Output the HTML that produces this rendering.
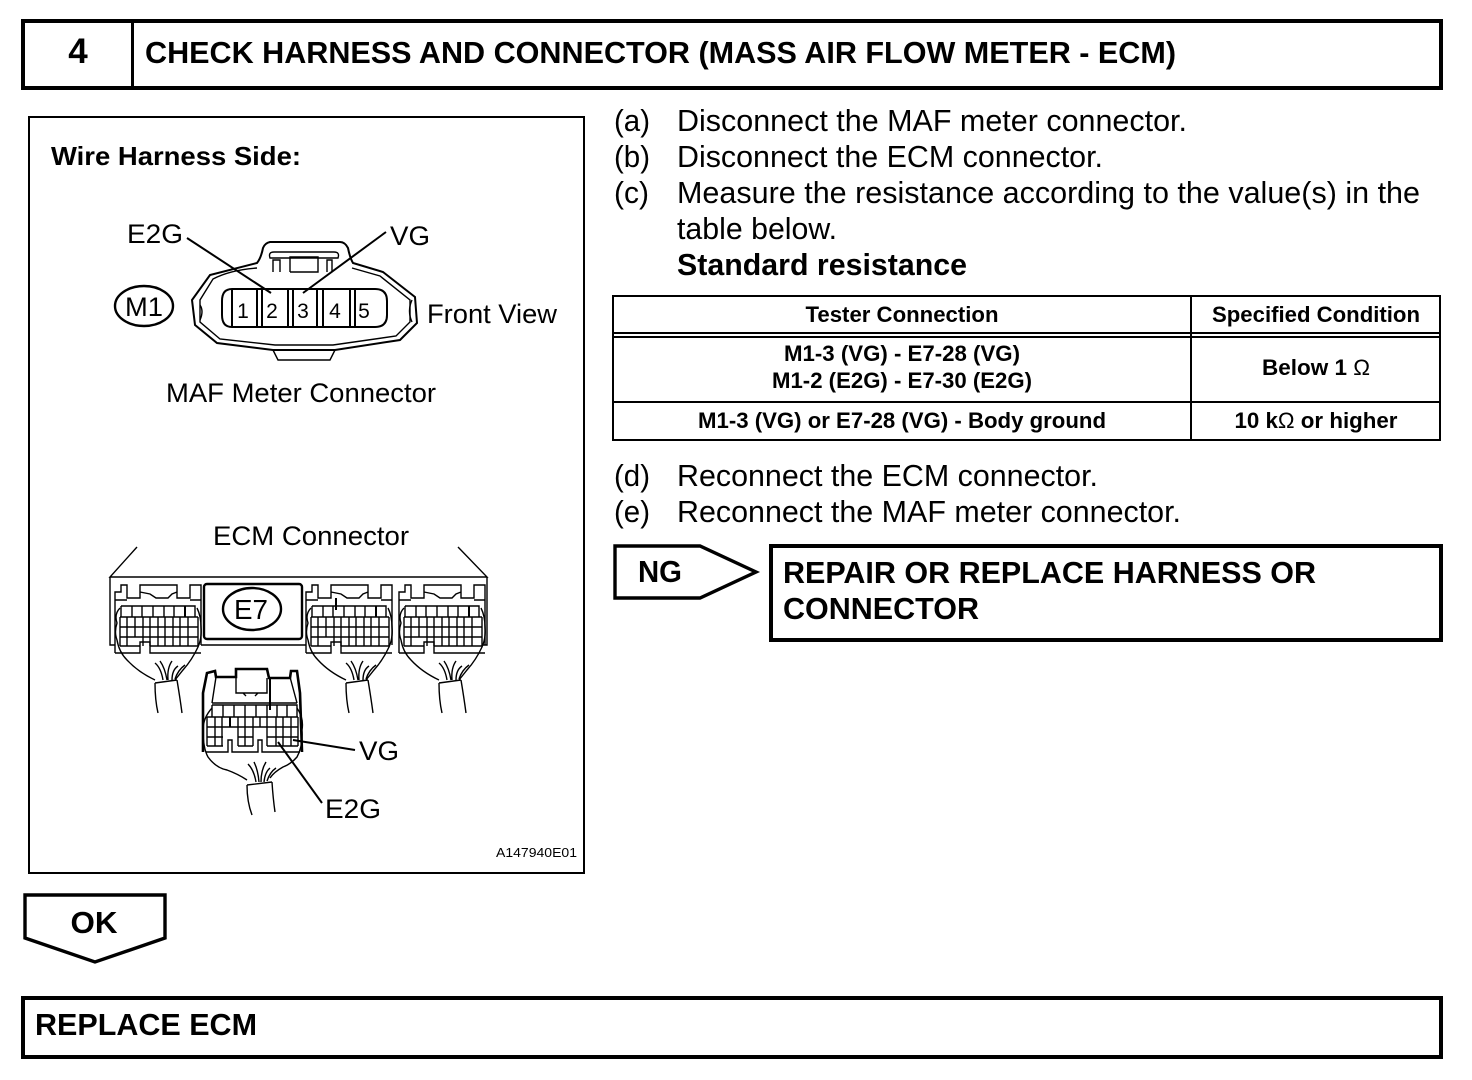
<!DOCTYPE html>
<html><head><meta charset="utf-8"><style>
html,body{margin:0;padding:0;background:#fff;width:1472px;height:1080px;overflow:hidden}
svg{display:block}
text{font-family:"Liberation Sans",sans-serif;fill:#000}
.b{font-weight:bold}
.l{fill:none;stroke:#000;stroke-width:1.4}
.m{fill:none;stroke:#000;stroke-width:2}
.h{fill:none;stroke:#000;stroke-width:2.6}
</style></head><body>
<svg width="1472" height="1080" viewBox="0 0 1472 1080" xmlns="http://www.w3.org/2000/svg">
<defs>
<g id="conn">
<path class="l" d="M115 653V592H121V585H127V598H140V585H177V598H190V585H201V600H190M115 600H127M115 653H140V642H150V653H201M201 600V645M140 592L150 594L156 598H168L172 594L177 592"/>
<path class="l" d="M121 606H195V617M121 606V617M132 606V617M142 606V617M153 606V617M164 606V617M174 606V617M185 606V617M120 617H198M120 627H198M120 637H198M120 646H140M150 646H198M120 617V646M127 617V646M135 617V637M143 617V646M150 617V646M158 617V646M165 617V646M173 617V646M180 617V646M188 617V646M198 617V646"/>
<path class="m" d="M185 606V617"/>
<path class="l" d="M120 608Q114 614 117 623Q114 632 117 640Q119 652 127 660Q138 672 155 680M197 608Q201 616 201 627Q202 638 198 647Q192 660 183 670L175 680"/>
<path class="l" d="M155 683L177 680M155 683Q155 700 158 713M177 680Q180 698 182 713"/>
<path class="l" d="M155 663Q161 668 163 680M160 661Q165 668 167 680M172 661Q167 668 168 680M178 666Q172 670 172 680M185 665Q178 670 175 679"/>
</g>
</defs>

<!-- Header -->
<rect x="23" y="21" width="1418" height="67" fill="none" stroke="#000" stroke-width="4"/>
<rect x="131" y="21" width="3" height="67"/>
<text class="b" x="78" y="63" font-size="35" text-anchor="middle">4</text>
<text class="b" x="145" y="63" font-size="31" textLength="1031" lengthAdjust="spacingAndGlyphs">CHECK HARNESS AND CONNECTOR (MASS AIR FLOW METER - ECM)</text>

<!-- Diagram frame -->
<rect x="29" y="117" width="555" height="756" fill="none" stroke="#000" stroke-width="2"/>
<text class="b" x="51" y="165" font-size="26" textLength="250" lengthAdjust="spacingAndGlyphs">Wire Harness Side:</text>

<!-- MAF connector -->
<text x="127" y="243" font-size="27" textLength="56" lengthAdjust="spacingAndGlyphs">E2G</text>
<text x="390" y="245" font-size="27" textLength="40" lengthAdjust="spacingAndGlyphs">VG</text>
<path class="m" d="M257 263Q261 258 263 248Q265 243 270 242H340Q345 242 348 248Q350 258 353 263L383 272L415 297L417 323L400 340L335 350H273L217 343L195 325L192 300L210 275Z"/>
<path class="l" d="M257 268Q230 270 213 279L200 300V322L220 339L275 345H333L396 336L410 322V300L380 276L352 268"/>
<path class="l" d="M273 350L278 360H330L335 350"/>
<path class="l" d="M270 258Q268 252 274 252H334Q340 252 338 258H270ZM273 272V260H280V272M290 272V257H318V272H290M327 272V260H332V272"/>
<path class="l" d="M200 305Q204 311 200 320M412 300Q407 311 412 322"/>
<path class="m" d="M232 289H375Q387 289 387 301V315Q387 327 375 327H232Q222 327 222 315V301Q222 289 232 289Z"/>
<path class="m" d="M232 289V327M257 289V327M262 289V327M288 288V327M293 288V327M317 289V327M323 289V327M350 289V327M355 289V327"/>
<text x="243" y="318" font-size="21" text-anchor="middle">1</text>
<text x="272" y="318" font-size="21" text-anchor="middle">2</text>
<text x="303" y="318" font-size="21" text-anchor="middle">3</text>
<text x="335" y="318" font-size="21" text-anchor="middle">4</text>
<text x="364" y="318" font-size="21" text-anchor="middle">5</text>
<path class="m" d="M187 238L271 293M386 232L303 293"/>
<ellipse cx="144" cy="306" rx="29" ry="20" fill="none" stroke="#000" stroke-width="2.4"/>
<text x="144" y="316" font-size="27" text-anchor="middle" textLength="38" lengthAdjust="spacingAndGlyphs">M1</text>
<text x="427" y="323" font-size="27" textLength="130" lengthAdjust="spacingAndGlyphs">Front View</text>
<text x="166" y="402" font-size="27" textLength="270" lengthAdjust="spacingAndGlyphs">MAF Meter Connector</text>

<!-- ECM connector -->
<text x="213" y="545" font-size="27" textLength="196" lengthAdjust="spacingAndGlyphs">ECM Connector</text>
<path class="l" d="M137 547L110 577H487L458 547M487 577V645H482M110 577V645H115"/>
<rect x="204" y="584" width="98" height="55" rx="3" fill="none" stroke="#000" stroke-width="2.4"/>
<path class="l" d="M201 645H306"/>
<ellipse cx="252" cy="609" rx="29" ry="21" fill="none" stroke="#000" stroke-width="2.4"/>
<text x="251" y="619" font-size="28" text-anchor="middle" textLength="34" lengthAdjust="spacingAndGlyphs">E7</text>
<use href="#conn"/>
<use href="#conn" transform="translate(191 0)"/>
<use href="#conn" transform="translate(284 0)"/>
<path class="m" d="M336 598V610"/>

<!-- Lower connector -->
<path class="h" d="M203 752V693L207 673L215 671L216 677H236V669H267L269 678H290L291 671H297L300 693L302 752"/>
<path class="l" d="M216 677L212 703M290 677L297 703M212 703H297M236 677V693H267V678M243 693L246 696M258 693L255 696"/>
<path class="m" d="M270 678V710"/>
<path class="l" d="M212 705H297V717M212 705V717M223 705V717M234 705V717M245 705V717M256 705V717M267 705V717M277 705V717M287 705V717M207 717H298M207 727H298M207 737H223M238 737H253M267 737H298M207 746H223M238 746H253M267 746H298M207 717V746M215 717V746M222 717V746M230 717V727M238 717V746M245 717V746M253 717V746M260 717V727M267 717V746M276 717V746M283 717V746M291 717V746M298 717V746"/>
<path class="l" d="M206 752H228V740H232V752H258V740H262V752H300"/>
<path class="m" d="M230 717V727"/>
<path class="l" d="M212 708Q203 718 203 730Q203 748 208 757Q216 768 227 770Q238 774 247 780M297 708Q304 718 302 730Q303 746 297 757Q291 764 283 767Q274 772 270 778"/>
<path class="l" d="M247 785L272 782M247 785Q247 802 252 815M272 782Q273 798 275 812"/>
<path class="l" d="M248 764Q254 770 256 782M254 762Q258 770 259 782M266 762Q261 770 261 782M270 768Q265 772 264 782M276 768Q270 772 267 781"/>
<path class="m" d="M293 740L355 750M278 742L322 803"/>
<text x="359" y="760" font-size="27" textLength="40" lengthAdjust="spacingAndGlyphs">VG</text>
<text x="325" y="818" font-size="27" textLength="56" lengthAdjust="spacingAndGlyphs">E2G</text>
<text x="496" y="857" font-size="13" textLength="81" lengthAdjust="spacingAndGlyphs">A147940E01</text>

<!-- Steps -->
<g font-size="31">
<text x="614" y="131" textLength="36" lengthAdjust="spacingAndGlyphs">(a)</text>
<text x="677" y="131" textLength="510" lengthAdjust="spacingAndGlyphs">Disconnect the MAF meter connector.</text>
<text x="614" y="167" textLength="36" lengthAdjust="spacingAndGlyphs">(b)</text>
<text x="677" y="167" textLength="426" lengthAdjust="spacingAndGlyphs">Disconnect the ECM connector.</text>
<text x="614" y="203" textLength="35" lengthAdjust="spacingAndGlyphs">(c)</text>
<text x="677" y="203" textLength="743" lengthAdjust="spacingAndGlyphs">Measure the resistance according to the value(s) in the</text>
<text x="677" y="239" textLength="160" lengthAdjust="spacingAndGlyphs">table below.</text>
<text class="b" x="677" y="275" textLength="290" lengthAdjust="spacingAndGlyphs">Standard resistance</text>
<text x="614" y="486" textLength="36" lengthAdjust="spacingAndGlyphs">(d)</text>
<text x="677" y="486" textLength="421" lengthAdjust="spacingAndGlyphs">Reconnect the ECM connector.</text>
<text x="614" y="522" textLength="36" lengthAdjust="spacingAndGlyphs">(e)</text>
<text x="677" y="522" textLength="504" lengthAdjust="spacingAndGlyphs">Reconnect the MAF meter connector.</text>
</g>

<!-- Table -->
<rect x="613" y="296" width="827" height="144" fill="none" stroke="#000" stroke-width="2"/>
<path class="m" d="M1191 296V440M613 333H1440M613 337H1440M613 402H1440"/>
<g class="b" font-size="22" text-anchor="middle">
<text x="902" y="322" textLength="193" lengthAdjust="spacingAndGlyphs">Tester Connection</text>
<text x="1316" y="322" textLength="208" lengthAdjust="spacingAndGlyphs">Specified Condition</text>
<text x="902" y="361" textLength="236" lengthAdjust="spacingAndGlyphs">M1-3 (VG) - E7-28 (VG)</text>
<text x="902" y="388" textLength="260" lengthAdjust="spacingAndGlyphs">M1-2 (E2G) - E7-30 (E2G)</text>
<text x="1316" y="375" textLength="108" lengthAdjust="spacingAndGlyphs">Below 1 <tspan font-weight="normal">Ω</tspan></text>
<text x="902" y="428" textLength="408" lengthAdjust="spacingAndGlyphs">M1-3 (VG) or E7-28 (VG) - Body ground</text>
<text x="1316" y="428" textLength="163" lengthAdjust="spacingAndGlyphs">10 k<tspan font-weight="normal">Ω</tspan> or higher</text>
</g>

<!-- NG -->
<path d="M615 546H700L756 572L700 598H615Z" fill="none" stroke="#000" stroke-width="3.4"/>
<text class="b" x="638" y="582" font-size="31" textLength="44" lengthAdjust="spacingAndGlyphs">NG</text>
<rect x="771" y="546" width="670" height="94" fill="none" stroke="#000" stroke-width="4"/>
<text class="b" x="783" y="583" font-size="31" textLength="533" lengthAdjust="spacingAndGlyphs">REPAIR OR REPLACE HARNESS OR</text>
<text class="b" x="783" y="619" font-size="31" textLength="196" lengthAdjust="spacingAndGlyphs">CONNECTOR</text>

<!-- OK -->
<path d="M25 895H165V938L95 962L25 938Z" fill="none" stroke="#000" stroke-width="3.4"/>
<text class="b" x="94" y="933" font-size="31" text-anchor="middle" textLength="47" lengthAdjust="spacingAndGlyphs">OK</text>

<!-- Replace -->
<rect x="23" y="998" width="1418" height="59" fill="none" stroke="#000" stroke-width="4"/>
<text class="b" x="35" y="1035" font-size="31" textLength="222" lengthAdjust="spacingAndGlyphs">REPLACE ECM</text>
</svg>
</body></html>
